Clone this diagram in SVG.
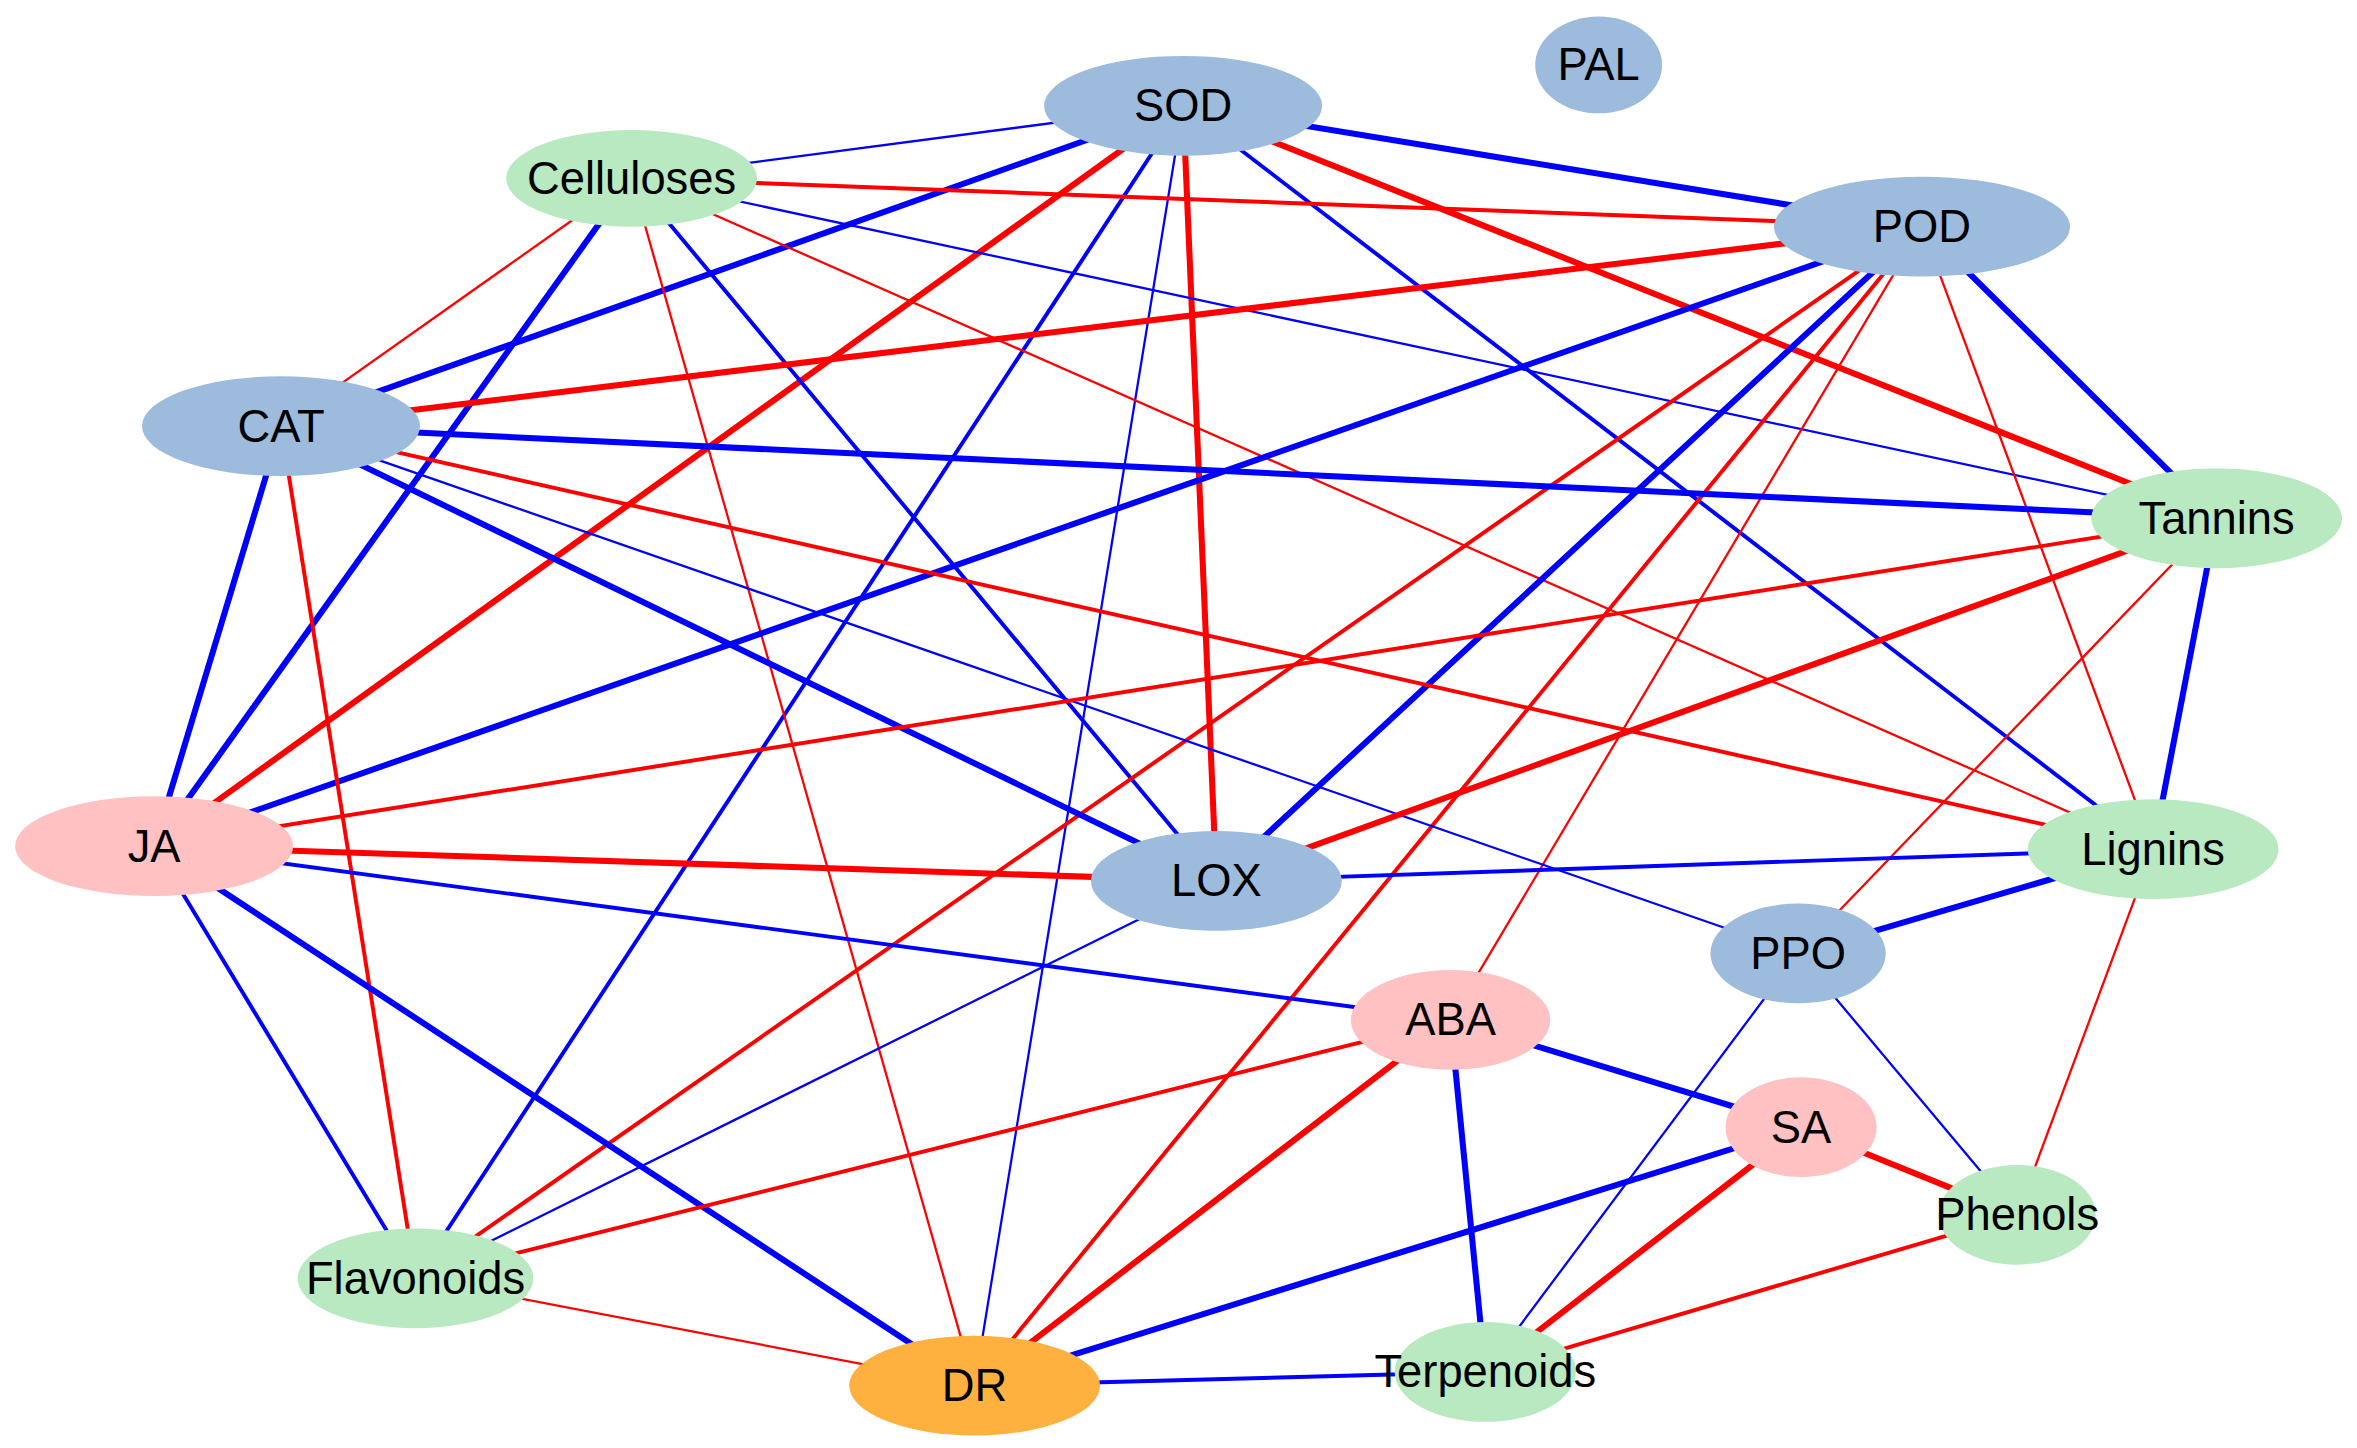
<svg xmlns="http://www.w3.org/2000/svg" width="2357" height="1448" viewBox="0 0 2357 1448">
<style>
.b{stroke:#0000ff;fill:none}.r{stroke:#ff0000;fill:none}
.t1{stroke-width:1.5}.t2{stroke-width:2.6}.t3{stroke-width:4}
.nb{fill:#9dbbdc}.ng{fill:#b9e9c1}.np{fill:#ffc1c1}.no{fill:#ffb13f}
text{font-family:"Liberation Sans",Arial,sans-serif;font-size:30px;text-anchor:middle;dominant-baseline:central;fill:#000}
</style>
<rect width="2357" height="1448" fill="#fff"/>
<g transform="scale(1.511)">
<g id="connectors">
<line class="b t1" x1="783" y1="70" x2="418" y2="118"/>
<line class="b t3" x1="783" y1="70" x2="1272" y2="150"/>
<line class="b t3" x1="783" y1="70" x2="186" y2="282"/>
<line class="r t3" x1="783" y1="70" x2="102" y2="560"/>
<line class="b t2" x1="783" y1="70" x2="275" y2="846"/>
<line class="b t1" x1="783" y1="70" x2="645" y2="917"/>
<line class="r t3" x1="783" y1="70" x2="805" y2="583"/>
<line class="r t3" x1="783" y1="70" x2="1467" y2="343"/>
<line class="b t2" x1="783" y1="70" x2="1425" y2="562"/>
<line class="r t2" x1="418" y1="118" x2="1272" y2="150"/>
<line class="r t1" x1="418" y1="118" x2="186" y2="282"/>
<line class="b t3" x1="418" y1="118" x2="102" y2="560"/>
<line class="r t1" x1="418" y1="118" x2="645" y2="917"/>
<line class="b t2" x1="418" y1="118" x2="805" y2="583"/>
<line class="b t1" x1="418" y1="118" x2="1467" y2="343"/>
<line class="r t1" x1="418" y1="118" x2="1425" y2="562"/>
<line class="r t3" x1="1272" y1="150" x2="186" y2="282"/>
<line class="b t3" x1="1272" y1="150" x2="102" y2="560"/>
<line class="b t3" x1="1272" y1="150" x2="805" y2="583"/>
<line class="r t2" x1="1272" y1="150" x2="275" y2="846"/>
<line class="r t2" x1="1272" y1="150" x2="645" y2="917"/>
<line class="r t1" x1="1272" y1="150" x2="960" y2="675"/>
<line class="b t3" x1="1272" y1="150" x2="1467" y2="343"/>
<line class="r t1" x1="1272" y1="150" x2="1425" y2="562"/>
<line class="b t3" x1="186" y1="282" x2="1467" y2="343"/>
<line class="b t3" x1="186" y1="282" x2="805" y2="583"/>
<line class="b t1" x1="186" y1="282" x2="1190" y2="631"/>
<line class="r t2" x1="186" y1="282" x2="1425" y2="562"/>
<line class="b t3" x1="186" y1="282" x2="102" y2="560"/>
<line class="r t2" x1="186" y1="282" x2="275" y2="846"/>
<line class="r t2" x1="1467" y1="343" x2="102" y2="560"/>
<line class="r t3" x1="1467" y1="343" x2="805" y2="583"/>
<line class="r t1" x1="1467" y1="343" x2="1190" y2="631"/>
<line class="b t3" x1="1467" y1="343" x2="1425" y2="562"/>
<line class="r t3" x1="102" y1="560" x2="805" y2="583"/>
<line class="b t2" x1="102" y1="560" x2="960" y2="675"/>
<line class="b t2" x1="102" y1="560" x2="275" y2="846"/>
<line class="b t3" x1="102" y1="560" x2="645" y2="917"/>
<line class="b t2" x1="1425" y1="562" x2="805" y2="583"/>
<line class="b t3" x1="1425" y1="562" x2="1190" y2="631"/>
<line class="r t1" x1="1425" y1="562" x2="1335" y2="804"/>
<line class="b t1" x1="805" y1="583" x2="275" y2="846"/>
<line class="b t1" x1="1190" y1="631" x2="1335" y2="804"/>
<line class="b t1" x1="1190" y1="631" x2="983" y2="908"/>
<line class="r t2" x1="960" y1="675" x2="275" y2="846"/>
<line class="b t3" x1="960" y1="675" x2="1192" y2="746"/>
<line class="b t3" x1="960" y1="675" x2="983" y2="908"/>
<line class="r t3" x1="960" y1="675" x2="645" y2="917"/>
<line class="b t3" x1="1192" y1="746" x2="645" y2="917"/>
<line class="r t3" x1="1192" y1="746" x2="983" y2="908"/>
<line class="r t3" x1="1192" y1="746" x2="1335" y2="804"/>
<line class="r t2" x1="1335" y1="804" x2="983" y2="908"/>
<line class="r t1" x1="275" y1="846" x2="645" y2="917"/>
<line class="b t2" x1="645" y1="917" x2="983" y2="908"/>
</g>
<g id="SOD"><ellipse class="nb" cx="783" cy="70" rx="92" ry="33"/><text x="783" y="70">SOD</text></g>
<g id="PAL"><ellipse class="nb" cx="1058" cy="43" rx="42" ry="32"/><text x="1058" y="43">PAL</text></g>
<g id="Celluloses"><ellipse class="ng" cx="418" cy="118" rx="83" ry="32"/><text x="418" y="118">Celluloses</text></g>
<g id="POD"><ellipse class="nb" cx="1272" cy="150" rx="98" ry="33"/><text x="1272" y="150">POD</text></g>
<g id="CAT"><ellipse class="nb" cx="186" cy="282" rx="92" ry="33"/><text x="186" y="282">CAT</text></g>
<g id="Tannins"><ellipse class="ng" cx="1467" cy="343" rx="83" ry="33"/><text x="1467" y="343">Tannins</text></g>
<g id="JA"><ellipse class="np" cx="102" cy="560" rx="92" ry="33"/><text x="102" y="560">JA</text></g>
<g id="Lignins"><ellipse class="ng" cx="1425" cy="562" rx="83" ry="33"/><text x="1425" y="562">Lignins</text></g>
<g id="LOX"><ellipse class="nb" cx="805" cy="583" rx="83" ry="33"/><text x="805" y="583">LOX</text></g>
<g id="PPO"><ellipse class="nb" cx="1190" cy="631" rx="58" ry="33"/><text x="1190" y="631">PPO</text></g>
<g id="ABA"><ellipse class="np" cx="960" cy="675" rx="66" ry="33"/><text x="960" y="675">ABA</text></g>
<g id="SA"><ellipse class="np" cx="1192" cy="746" rx="50" ry="33"/><text x="1192" y="746">SA</text></g>
<g id="Phenols"><ellipse class="ng" cx="1335" cy="804" rx="52" ry="33"/><text x="1335" y="804">Phenols</text></g>
<g id="Flavonoids"><ellipse class="ng" cx="275" cy="846" rx="78" ry="33"/><text x="275" y="846">Flavonoids</text></g>
<g id="DR"><ellipse class="no" cx="645" cy="917" rx="83" ry="33"/><text x="645" y="917">DR</text></g>
<g id="Terpenoids"><ellipse class="ng" cx="983" cy="908" rx="60" ry="33"/><text x="983" y="908">Terpenoids</text></g>
</g>
</svg>
